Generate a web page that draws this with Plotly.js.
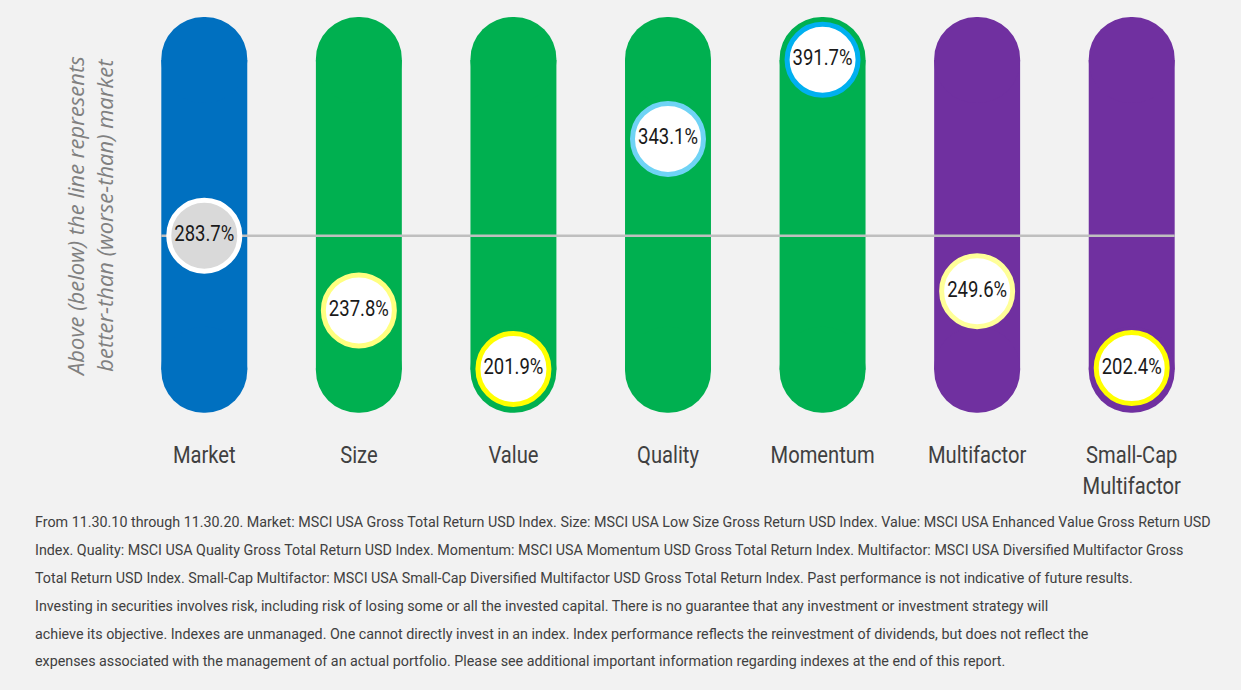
<!DOCTYPE html>
<html>
<head>
<meta charset="utf-8">
<script src="https://cdn.plot.ly/plotly-3.0.1.min.js"></script>
<style>
html,body{margin:0;padding:0;background:#f2f2f2;}
#chart{width:1241px;height:690px;}
</style>
</head>
<body>
<div id="chart"></div>
<script>
// ---- data ----
const categories = ["Market", "Size", "Value", "Quality", "Momentum", "Multifactor", "Small-Cap<br>Multifactor"];
const returns = [283.7, 237.8, 201.9, 343.1, 391.7, 249.6, 202.4];
const labels = ["283.7%", "237.8%", "201.9%", "343.1%", "391.7%", "249.6%", "202.4%"];
const pillColors = ["#0070c0", "#00b050", "#00b050", "#00b050", "#00b050", "#7030a0", "#7030a0"];
const ringColors = ["#ffffff", "#ffff80", "#ffff00", "#6fd3f5", "#00b0f0", "#ffff99", "#ffff00"];
const fillColors = ["#d9d9d9", "#ffffff", "#ffffff", "#ffffff", "#ffffff", "#ffffff", "#ffffff"];
const marketReturn = returns[0];
const pillTop = 418;
const pillBottom = 175;

const footnotes = [
  "From 11.30.10 through 11.30.20. Market: MSCI USA Gross Total Return USD Index. Size: MSCI USA Low Size Gross Return USD Index. Value: MSCI USA Enhanced Value Gross Return USD",
  "Index. Quality: MSCI USA Quality Gross Total Return USD Index. Momentum: MSCI USA Momentum USD Gross Total Return Index. Multifactor: MSCI USA Diversified Multifactor Gross",
  "Total Return USD Index. Small-Cap Multifactor: MSCI USA Small-Cap Diversified Multifactor USD Gross Total Return Index. Past performance is not indicative of future results.",
  "Investing in securities involves risk, including risk of losing some or all the invested capital. There is no guarantee that any investment or investment strategy will",
  "achieve its objective. Indexes are unmanaged. One cannot directly invest in an index. Index performance reflects the reinvestment of dividends, but does not reflect the",
  "expenses associated with the management of an actual portfolio. Please see additional important information regarding indexes at the end of this report."
];

// ---- layout geometry ----
const W = 1241, H = 690;
const mL = 127, mR = 32, mT = 0, mB = 260;
const plotH = H - mT - mB;
const plotW = W - mL - mR;
const py = p => (H - mB - p) / plotH;   // pixel y -> paper y
const px = p => (p - mL) / plotW;       // pixel x -> paper x
const valPerPx = (428.4 - 164.4) / plotH;

const baseFont = "Roboto, Noto Sans, sans-serif";
const xIdx = categories.map((_, i) => i);
const barW = 0.556;
const capR = 43 * valPerPx;   // end-cap radius in value units (half the bar width)

const capTop = {
  type: "bar", x: xIdx,
  base: xIdx.map(() => pillTop - 2 * capR),
  y: xIdx.map(() => 2 * capR),
  width: barW,
  marker: {color: pillColors, cornerradius: "50%", line: {width: 0}},
  hoverinfo: "skip", showlegend: false
};
const body = {
  type: "bar", x: xIdx,
  base: xIdx.map(() => pillBottom + capR),
  y: xIdx.map(() => (pillTop - capR) - (pillBottom + capR)),
  width: barW,
  marker: {color: pillColors, line: {width: 0}},
  hoverinfo: "skip", showlegend: false
};
const capBottom = {
  type: "bar", x: xIdx,
  base: xIdx.map(() => pillBottom + 2 * capR),
  y: xIdx.map(() => -2 * capR),
  width: barW,
  marker: {color: pillColors, cornerradius: "50%", line: {width: 0}},
  hoverinfo: "skip", showlegend: false
};
const refLine = {
  type: "scatter", mode: "lines",
  x: [xIdx[0] - barW / 2, xIdx[xIdx.length - 1] + barW / 2],
  y: [marketReturn, marketReturn],
  line: {color: "#bfbfbf", width: 2.5},
  hoverinfo: "skip", showlegend: false
};
const circles = {
  type: "scatter", mode: "markers+text",
  x: xIdx, y: returns, text: labels,
  textposition: "middle center",
  textfont: {family: baseFont, size: 22, color: "#1a1a1a"},
  marker: {size: 71, color: fillColors, line: {color: ringColors, width: 5}},
  hoverinfo: "skip", showlegend: false, cliponaxis: false
};

const annotations = [{
  xref: "paper", yref: "paper", x: px(89), y: py(217),
  text: "<i>Above (below) the line represents<br>better-than (worse-than) market</i>",
  textangle: -90, showarrow: false, xanchor: "center", yanchor: "middle",
  font: {family: "Open Sans, sans-serif", size: 22, color: "#808080"}
}];
const lineYs = [522, 550, 578, 606, 634, 661];
const noteSize0 = 16;
footnotes.forEach((t, i) => {
  annotations.push({
    xref: "paper", yref: "paper", x: px(33), y: py(lineYs[i]),
    text: t, showarrow: false, xanchor: "left", yanchor: "middle", align: "left",
    font: {family: baseFont, size: noteSize0, color: "#404040"}
  });
});

const layout = {
  width: W, height: H,
  margin: {l: mL, r: mR, t: mT, b: mB},
  paper_bgcolor: "#f2f2f2", plot_bgcolor: "#f2f2f2",
  barmode: "overlay",
  showlegend: false,
  xaxis: {
    range: [-0.5, 6.5], tickvals: xIdx, ticktext: categories,
    showgrid: false, zeroline: false, showline: false, ticks: "",
    tickfont: {family: baseFont, size: 24, color: "#404040"},
    ticklabelstandoff: 8, fixedrange: true
  },
  yaxis: {
    range: [164.4, 428.4], showgrid: false, zeroline: false, showline: false,
    showticklabels: false, ticks: "", fixedrange: true
  },
  annotations: annotations
};

// horizontally condense rendered text (the reference uses a condensed face)
function condense(el, factor) {
  const lines = el.querySelectorAll("tspan.line");
  const targets = lines.length ? Array.from(lines) : [el];
  targets.forEach(t => {
    const w = t.getComputedTextLength();
    if (w > 0) {
      t.setAttribute("textLength", (w * factor).toFixed(1));
      t.setAttribute("lengthAdjust", "spacingAndGlyphs");
    }
  });
}
function condenseAll(gd) {
  gd.querySelectorAll(".xtick text").forEach(el => condense(el, 0.84));
  gd.querySelectorAll(".textpoint text").forEach(el => condense(el, 0.84));
}

Plotly.newPlot("chart", [body, capTop, capBottom, refLine, circles], layout, {displayModeBar: false, staticPlot: true})
  .then(gd => {
    // size the footnote so that its first line spans the same width as the reference
    const first = Array.from(gd.querySelectorAll(".annotation-text"))
      .find(el => (el.getAttribute("data-unformatted") || "").startsWith("From"));
    const upd = {};
    if (first) {
      const w = first.getComputedTextLength();
      const s = Math.round(noteSize0 * 1172 / w * 10) / 10;
      for (let i = 1; i <= footnotes.length; i++) upd["annotations[" + i + "].font.size"] = s;
    }
    return Plotly.relayout(gd, upd);
  })
  .then(gd => condenseAll(gd));
</script>
</body>
</html>
